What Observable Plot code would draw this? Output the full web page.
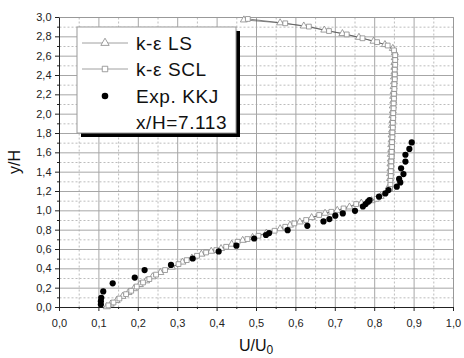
<!DOCTYPE html>
<html><head><meta charset="utf-8">
<script src="https://cdn.jsdelivr.net/npm/d3@7"></script>
<script src="https://cdn.jsdelivr.net/npm/@observablehq/plot@0.6"></script>
<style>body{margin:0;background:#fff} svg{display:block}</style>
</head><body><div id="chart"></div>
<script>
const xTicks=[0,0.1,0.2,0.3,0.4,0.5,0.6,0.7,0.8,0.9,1.0];
const xMinor=[0.05,0.15,0.25,0.35,0.45,0.55,0.65,0.75,0.85,0.95];
const yTicks=[0,0.2,0.4,0.6,0.8,1.0,1.2,1.4,1.6,1.8,2.0,2.2,2.4,2.6,2.8,3.0];
const yMinor=[0.1,0.3,0.5,0.7,0.9,1.1,1.3,1.5,1.7,1.9,2.1,2.3,2.5,2.7,2.9];

const seriesNames=["k-ε LS","k-ε SCL","Exp. KKJ"];
const caseLabel="x/H=7.113";

const sclU=[0.478,0.573,0.633,0.684,0.729,0.769,0.806,0.833,0.849,
 0.852,0.852,0.852,0.851,0.851,0.851,0.850,0.850,0.849,0.849,0.848,0.848,0.847,0.847,0.846,0.846,0.845,0.845,0.844,0.844,0.843,0.843,0.842,0.842,0.841,0.841,0.840,0.840,
 0.839,0.805,0.784,0.753,0.721,0.690,0.659,0.626,0.596,0.573,0.546,0.505,0.477,0.452,0.423,0.398,0.372,0.349,0.323,0.302,0.268,0.245,0.228,0.212,0.196,0.182,0.169,0.152,0.137,0.124];
const sclY=[2.985,2.94,2.906,2.86,2.825,2.785,2.745,2.71,2.66,
 2.61,2.56,2.51,2.46,2.41,2.36,2.31,2.26,2.21,2.16,2.11,2.06,2.01,1.96,1.91,1.86,1.81,1.76,1.71,1.66,1.61,1.56,1.51,1.46,1.41,1.36,1.31,1.27,
 1.226,1.124,1.097,1.07,1.025,0.99,0.957,0.905,0.87,0.835,0.794,0.742,0.708,0.68,0.628,0.594,0.569,0.535,0.49,0.449,0.387,0.34,0.294,0.259,0.217,0.173,0.138,0.093,0.052,0.022];

const lsU=[0.468,0.560,0.620,0.672,0.718,0.760,0.797,0.826,0.846,
 0.851,0.851,0.850,0.850,0.850,0.849,0.849,0.848,0.848,0.847,0.847,0.846,0.846,0.845,0.845,0.844,0.844,0.843,0.843,0.842,0.842,0.841,0.841,0.840,0.840,0.839,0.839,
 0.836,0.815,0.792,0.766,0.736,0.705,0.674,0.640,0.610,0.585,0.560,0.525,0.490,0.465,0.437,0.410,0.385,0.360,0.336,0.312,0.285,0.256,0.236,0.220,0.204,0.189,0.175,0.160,0.145,0.130,0.120];
const lsY=[2.975,2.945,2.912,2.87,2.834,2.795,2.755,2.72,2.68,
 2.635,2.585,2.535,2.485,2.435,2.385,2.335,2.285,2.235,2.185,2.135,2.085,2.035,1.985,1.935,1.885,1.835,1.785,1.735,1.685,1.635,1.585,1.535,1.485,1.435,1.385,1.335,
 1.25,1.15,1.105,1.08,1.04,1.005,0.975,0.93,0.885,0.852,0.815,0.77,0.725,0.695,0.655,0.61,0.582,0.552,0.512,0.47,0.418,0.362,0.318,0.276,0.238,0.195,0.155,0.115,0.072,0.035,0.008];

const expU=[0.105,0.105,0.106,0.111,0.135,0.191,0.216,0.283,0.338,0.404,0.449,0.494,0.524,0.532,0.579,0.629,0.670,0.685,0.700,0.719,0.750,0.770,0.777,0.783,0.787,0.811,0.827,0.835,0.856,0.865,0.862,0.873,0.867,0.878,0.878,0.888,0.894];
const expY=[0.03,0.065,0.10,0.166,0.25,0.31,0.387,0.44,0.507,0.58,0.64,0.714,0.75,0.77,0.80,0.845,0.89,0.915,0.95,0.973,1.0,1.045,1.07,1.094,1.11,1.146,1.18,1.215,1.25,1.294,1.33,1.38,1.44,1.51,1.58,1.64,1.708];

const scl=sclU.map((u,i)=>({u,y:sclY[i]}));
const ls=lsU.map((u,i)=>({u,y:lsY[i]}));
const exp=expU.map((u,i)=>({u,y:expY[i]}));
const fmt=d=>d.toFixed(1).replace(".",",");
const FONT="Arial";
const vGrid=(vals,o)=>Plot.link(vals,{x1:d=>d,x2:d=>d,y1:()=>0,y2:()=>3,...o});
const hGrid=(vals,o)=>Plot.link(vals,{y1:d=>d,y2:d=>d,x1:()=>0,x2:()=>1,...o});

const chart=Plot.plot({
  width:464,height:358,marginLeft:59,marginRight:11,marginTop:17,marginBottom:51,
  style:{fontFamily:FONT,color:"#222"},
  x:{domain:[0,1]}, y:{domain:[0,3]},
  marks:[
    vGrid(xMinor,{stroke:"#bcbcbc",strokeWidth:1,strokeDasharray:"2,2"}),
    hGrid(yMinor,{stroke:"#bcbcbc",strokeWidth:1,strokeDasharray:"2,2"}),
    vGrid(xTicks,{stroke:"#a6a6a6",strokeWidth:1}),
    hGrid(yTicks,{stroke:"#a6a6a6",strokeWidth:1}),
    vGrid([1],{stroke:"#999",strokeWidth:1}),
    hGrid([3],{stroke:"#999",strokeWidth:1}),
    vGrid([0],{stroke:"#222",strokeWidth:1}),
    hGrid([0],{stroke:"#222",strokeWidth:1}),
    Plot.axisX(xTicks,{tickSize:4,tickPadding:8,fontSize:11,tickFormat:fmt,label:null,stroke:"#222"}),
    Plot.axisX(xMinor,{tickSize:2,tickFormat:()=>"",label:null,stroke:"#222"}),
    Plot.axisY(yTicks,{tickSize:4,tickPadding:4,fontSize:11,tickFormat:fmt,label:null,stroke:"#222"}),
    Plot.axisY(yMinor,{tickSize:2,tickFormat:()=>"",label:null,stroke:"#222"}),
    Plot.line(ls,{x:"u",y:"y",stroke:"#555",strokeWidth:0.7}),
    Plot.line(scl,{x:"u",y:"y",stroke:"#555",strokeWidth:0.7}),
    Plot.dot(ls,{x:"u",y:"y",symbol:"triangle",r:2.6,fill:"white",stroke:"#888",strokeWidth:0.8}),
    Plot.dot(scl,{x:"u",y:"y",symbol:"square",r:2.7,fill:"white",stroke:"#888",strokeWidth:0.8}),
    Plot.dot(exp,{x:"u",y:"y",r:3.1,fill:"black",stroke:"none"})
  ]
});
document.getElementById("chart").appendChild(chart);

const svg=d3.select(chart);
svg.append("text").attr("transform","translate(20,162) rotate(-90)").attr("text-anchor","middle")
  .attr("font-family",FONT).attr("font-size",16).attr("fill","#111").text("y/H");
const xl=svg.append("text").attr("x",256).attr("y",351).attr("text-anchor","middle")
  .attr("font-family",FONT).attr("font-size",16).attr("fill","#111");
xl.append("tspan").text("U/U");
xl.append("tspan").attr("font-size",12).attr("dy",3).text("0");

const lg=svg.append("g").attr("font-family",FONT).attr("text-anchor","start");
lg.append("rect").attr("x",81).attr("y",31).attr("width",159).attr("height",106).attr("fill","#000");
lg.append("rect").attr("x",77).attr("y",27).attr("width",159).attr("height",106).attr("fill","#fff").attr("stroke","#999").attr("stroke-width",1);
const rows=[43,69,96];
const sym=[d3.symbolTriangle,d3.symbolSquare,d3.symbolCircle];
seriesNames.forEach((name,i)=>{
  const cy=rows[i];
  if(i<2){
    lg.append("line").attr("x1",82).attr("x2",128).attr("y1",cy).attr("y2",cy).attr("stroke","#888").attr("stroke-width",0.8);
    lg.append("path").attr("transform",`translate(105,${cy})`).attr("d",d3.symbol(sym[i],30)())
      .attr("fill","white").attr("stroke","#888").attr("stroke-width",0.8);
  } else {
    lg.append("path").attr("transform",`translate(105,${cy})`).attr("d",d3.symbol(sym[i],34)()).attr("fill","black");
  }
  lg.append("text").attr("x",136).attr("y",cy+6.5).attr("font-size",19).attr("letter-spacing",0.6).attr("fill","#111").attr("text-anchor","start").text(name);
});
lg.append("text").attr("x",136).attr("y",128.5).attr("font-size",19).attr("letter-spacing",0.6).attr("fill","#111").attr("text-anchor","start").text(caseLabel);
</script></body></html>
